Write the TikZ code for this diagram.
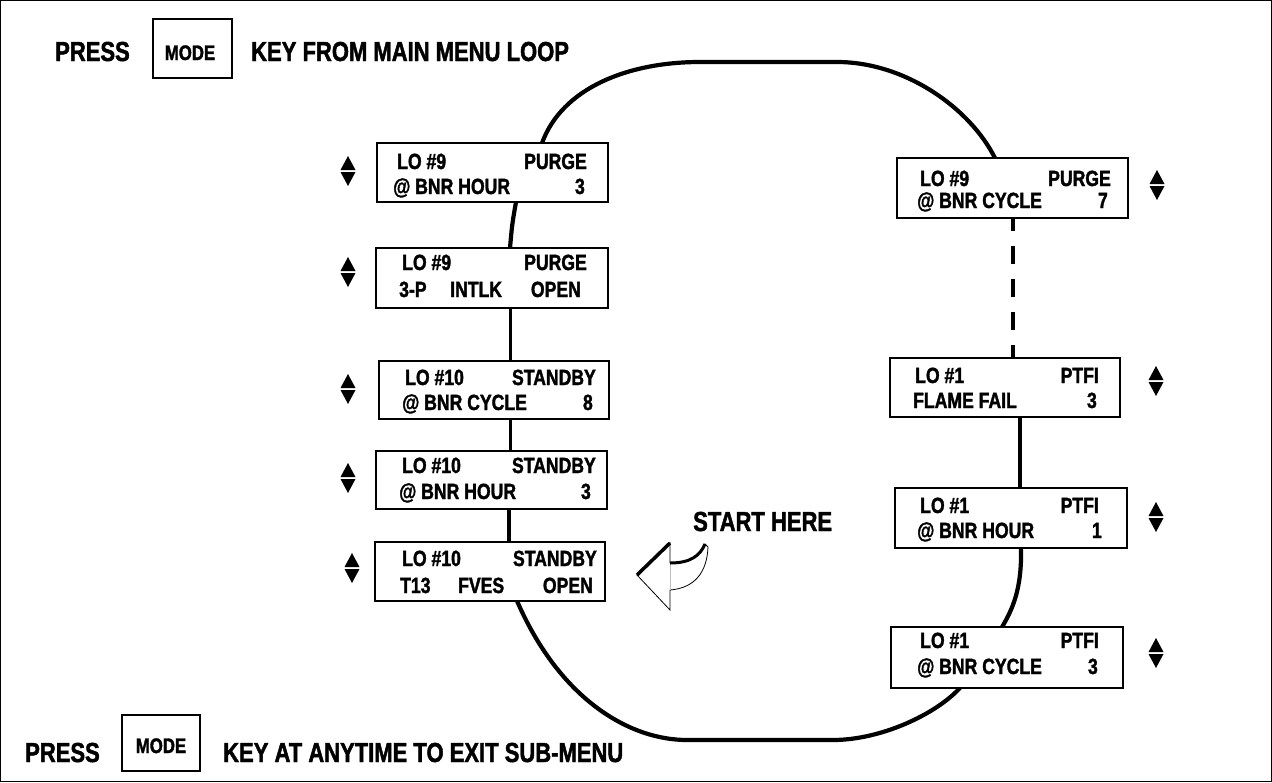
\documentclass[tikz,border=0pt]{standalone}
\usepackage{fontspec}
\setmainfont{Liberation Sans}[FakeStretch=0.8,BoldFeatures={FakeBold=1.6}]
\begin{document}
\begin{tikzpicture}[x=1pt,y=-1pt,
  lcd/.style={draw,line width=1.8pt,fill=white,inner sep=0pt},
  modebox/.style={draw,line width=2pt,fill=white,inner sep=0pt},
  tl/.style={anchor=base west,inner sep=0pt,font=\fontsize{22}{24}\selectfont\bfseries},
  tr/.style={anchor=base east,inner sep=0pt,font=\fontsize{22}{24}\selectfont\bfseries},
  hd/.style={anchor=base west,inner sep=0pt,font=\fontsize{27.5}{30}\selectfont\bfseries},
  md/.style={anchor=base,inner sep=0pt,font=\fontsize{21}{24}\selectfont\bfseries},
  loopline/.style={line width=4.2pt},
  thinloop/.style={line width=3pt},
  updown/.pic={\fill (-7.5,-1) -- (7.5,-1) -- (0,-15) -- cycle;
               \fill (-7.5,1) -- (7.5,1) -- (0,15) -- cycle;}
]
\useasboundingbox (0,0) rectangle (1272,782);
\draw[line width=1.2pt] (0.6,0.6) rectangle (1271.4,781.4);

% boxes
\node[lcd,minimum width=229pt,minimum height=57pt] (b1) at (492.5,172.5) {};
\node[lcd,minimum width=230pt,minimum height=58pt] (b2) at (492,278) {};
\node[lcd,minimum width=228pt,minimum height=56pt] (b3) at (494,390) {};
\node[lcd,minimum width=229pt,minimum height=56pt] (b4) at (491.5,480) {};
\node[lcd,minimum width=228pt,minimum height=57pt] (b5) at (490,571.5) {};
\node[lcd,minimum width=229pt,minimum height=58pt] (r1) at (1012.5,188) {};
\node[lcd,minimum width=228pt,minimum height=57pt] (r2) at (1005,387.5) {};
\node[lcd,minimum width=230pt,minimum height=58pt] (r3) at (1011,518) {};
\node[lcd,minimum width=230pt,minimum height=59pt] (r4) at (1007,657.5) {};

% loop connectors
\draw[loopline] ([xshift=49.5pt]b1.north) .. controls (562,88) and (628,62) .. (700,62)
   -- (837,62) .. controls (905,62) and (970,108) .. ([xshift=-17.5pt]r1.north);
\draw[loopline] ([xshift=23.5pt]b1.south) .. controls (512,225) .. ([xshift=18pt]b2.north);
\draw[thinloop] ([xshift=18pt]b2.south) -- ([xshift=16pt]b3.north);
\draw[thinloop] ([xshift=16pt]b3.south) -- ([xshift=18.5pt]b4.north);
\draw[loopline] ([xshift=17.5pt]b4.south) -- ([xshift=19pt]b5.north);
\draw[loopline] ([xshift=27pt]b5.south) .. controls (560,700) and (630,740) .. (687,740)
   -- (833,740) .. controls (880,740) and (935,715) .. ([xshift=-47pt]r4.south);
\draw[line width=3.2pt,dash pattern=on 18pt off 15pt,dash phase=5pt] ([xshift=0.5pt]r1.south) -- ([xshift=8pt]r2.north);
\draw[loopline] ([xshift=15pt]r2.south) -- ([xshift=9pt]r3.north);
\draw[loopline] ([xshift=10pt]r3.south) .. controls (1022,590) and (1012,610) .. ([xshift=-5pt]r4.north);

% redraw boxes on top of the loop
\foreach \n in {b1,b2,b3,b4,b5,r1,r2,r3,r4}{
  \draw[line width=1.8pt,fill=white] (\n.south west) rectangle (\n.north east);
}

% box texts
\node[tl] (b1a) at (397,169) {LO \#9};
\node[tr] (b1b) at (587,169) {PURGE};
\node[tl] (b1c) at (393,194) {@ BNR HOUR};
\node[tr] (b1d) at (585,194) {3};

\node[tl] (b2a) at (402,270) {LO \#9};
\node[tr] (b2b) at (587,270) {PURGE};
\node[tl] (b2c) at (399,297) {3-P};
\node[tl] (b2d) at (450,297) {INTLK};
\node[tr] (b2e) at (581,297) {OPEN};

\node[tl] (b3a) at (405,385) {LO \#10};
\node[tr] (b3b) at (596,385) {STANDBY};
\node[tl] (b3c) at (402,410) {@ BNR CYCLE};
\node[tr] (b3d) at (593,410) {8};

\node[tl] (b4a) at (402,473) {LO \#10};
\node[tr] (b4b) at (596,473) {STANDBY};
\node[tl] (b4c) at (399,499) {@ BNR HOUR};
\node[tr] (b4d) at (591,499) {3};

\node[tl] (b5a) at (402,566) {LO \#10};
\node[tr] (b5b) at (597,566) {STANDBY};
\node[tl] (b5c) at (400,593) {T13};
\node[tl] (b5d) at (458,593) {FVES};
\node[tr] (b5e) at (593,593) {OPEN};

\node[tl] (r1a) at (920,186) {LO \#9};
\node[tr] (r1b) at (1111,186) {PURGE};
\node[tl] (r1c) at (917,208) {@ BNR CYCLE};
\node[tr] (r1d) at (1108,208) {7};

\node[tl] (r2a) at (915,383) {LO \#1};
\node[tr] (r2b) at (1099,383) {PTFI};
\node[tl] (r2c) at (913,408) {FLAME FAIL};
\node[tr] (r2d) at (1097,408) {3};

\node[tl] (r3a) at (920,513) {LO \#1};
\node[tr] (r3b) at (1099,513) {PTFI};
\node[tl] (r3c) at (917,538) {@ BNR HOUR};
\node[tr] (r3d) at (1102,538) {1};

\node[tl] (r4a) at (920,648) {LO \#1};
\node[tr] (r4b) at (1099,648) {PTFI};
\node[tl] (r4c) at (917,674) {@ BNR CYCLE};
\node[tr] (r4d) at (1098,674) {3};

% up/down arrows
\pic at (348,171) {updown};
\pic at (348,272) {updown};
\pic at (348,389) {updown};
\pic at (348,478) {updown};
\pic at (352,568) {updown};
\pic at (1157,185) {updown};
\pic at (1156,381) {updown};
\pic at (1156,517) {updown};
\pic at (1156,653) {updown};

% header and footer
\node[hd] (p1) at (55,61) {PRESS};
\node[modebox,minimum width=79pt,minimum height=59pt] (m1) at (192.5,48.5) {};
\node[md] (m1t) at (190,60) {MODE};
\node[hd] (k1) at (251,61) {KEY FROM MAIN MENU LOOP};

\node[hd] (p2) at (25,762) {PRESS};
\node[modebox,minimum width=78pt,minimum height=56pt] (m2) at (161,743) {};
\node[md] (m2t) at (161,753) {MODE};
\node[hd] (k2) at (223,762) {KEY AT ANYTIME TO EXIT SUB-MENU};

% start here
\node[hd] (sh) at (693,531) {START HERE};
\draw[line width=0.8pt] (670,563) -- (670,543) -- (637,575) -- (670,610) -- (670,590)
   .. controls (695,588) and (707,572) .. (708,547) -- (705,544)
   .. controls (700,556) and (690,563) .. (670,563);
\draw[line width=0.6pt,gray!50] (670,563) -- (670,590);
\draw[line width=3.5pt] (637,575) -- (670,543);
\draw[line width=3pt] (670,563) .. controls (690,563) and (700,556) .. (705,544);
\end{tikzpicture}
\end{document}
